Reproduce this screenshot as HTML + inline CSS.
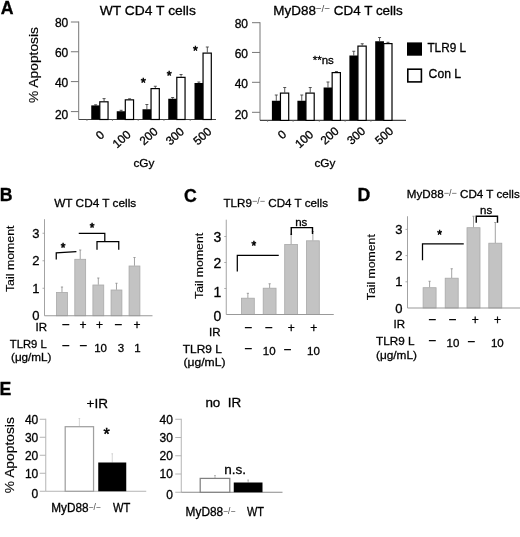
<!DOCTYPE html>
<html lang="en">
<head>
<meta charset="utf-8">
<title>Figure</title>
<style>
html,body{margin:0;padding:0;background:#fff;}
body{width:520px;height:537px;overflow:hidden;}
svg{display:block;}
svg text{font-family:"Liberation Sans", sans-serif;fill:#000;stroke:#000;stroke-width:0.3px;}
</style>
</head>
<body>
<svg width="520" height="537" viewBox="0 0 520 537">
<rect x="0" y="0" width="520" height="537" fill="#fff"/>
<text x="0.7" y="13.7" font-size="17.7" text-anchor="start" font-weight="bold">A</text>
<text x="99.8" y="14.6" font-size="13" text-anchor="start" textLength="96" lengthAdjust="spacingAndGlyphs">WT CD4 T cells</text>
<text x="273.3" y="14.6" font-size="13" text-anchor="start" textLength="129.5" lengthAdjust="spacingAndGlyphs">MyD88<tspan font-size="9.5" dy="-2.8" stroke="none" fill="#444">&#8722;/&#8722;</tspan><tspan dy="2.8"> CD4 T cells</tspan></text>
<line x1="78.7" y1="21.5" x2="78.7" y2="119.5" stroke="#777" stroke-width="1"/>
<line x1="70.9" y1="22" x2="78.7" y2="22" stroke="#777" stroke-width="1"/>
<text x="68.3" y="26.8" font-size="12" text-anchor="end">80</text>
<line x1="70.9" y1="51.75" x2="78.7" y2="51.75" stroke="#777" stroke-width="1"/>
<text x="68.3" y="56.9" font-size="12" text-anchor="end">60</text>
<line x1="70.9" y1="81.6" x2="78.7" y2="81.6" stroke="#777" stroke-width="1"/>
<text x="68.3" y="87.3" font-size="12" text-anchor="end">40</text>
<line x1="70.9" y1="111.6" x2="78.7" y2="111.6" stroke="#777" stroke-width="1"/>
<text x="68.3" y="118.5" font-size="12" text-anchor="end">20</text>
<line x1="78.7" y1="119.5" x2="216" y2="119.5" stroke="#444" stroke-width="1.1"/>
<line x1="95.625" y1="104.8" x2="95.625" y2="105.4" stroke="#444" stroke-width="0.9"/>
<line x1="94.125" y1="104.8" x2="97.125" y2="104.8" stroke="#444" stroke-width="0.9"/>
<rect x="91.25" y="105.40" width="8.75" height="14.10" fill="#000"/>
<line x1="104.075" y1="98.6" x2="104.075" y2="101.2" stroke="#444" stroke-width="0.9"/>
<line x1="102.575" y1="98.6" x2="105.575" y2="98.6" stroke="#444" stroke-width="0.9"/>
<rect x="99.80" y="101.80" width="8.25" height="17.70" fill="#fff" stroke="#000" stroke-width="1.2"/>
<line x1="86.95" y1="119.5" x2="86.95" y2="121.0" stroke="#777" stroke-width="0.8"/>
<line x1="121.125" y1="110.3" x2="121.125" y2="111.25" stroke="#444" stroke-width="0.9"/>
<line x1="119.625" y1="110.3" x2="122.625" y2="110.3" stroke="#444" stroke-width="0.9"/>
<rect x="116.75" y="111.25" width="8.75" height="8.25" fill="#000"/>
<line x1="129.575" y1="98.8" x2="129.575" y2="99.25" stroke="#444" stroke-width="0.9"/>
<line x1="128.075" y1="98.8" x2="131.075" y2="98.8" stroke="#444" stroke-width="0.9"/>
<rect x="125.30" y="99.85" width="8.25" height="19.65" fill="#fff" stroke="#000" stroke-width="1.2"/>
<line x1="112.45" y1="119.5" x2="112.45" y2="121.0" stroke="#777" stroke-width="0.8"/>
<line x1="146.875" y1="104.5" x2="146.875" y2="109.25" stroke="#444" stroke-width="0.9"/>
<line x1="145.375" y1="104.5" x2="148.375" y2="104.5" stroke="#444" stroke-width="0.9"/>
<rect x="142.50" y="109.25" width="8.75" height="10.25" fill="#000"/>
<line x1="155.325" y1="86.25" x2="155.325" y2="88.0" stroke="#444" stroke-width="0.9"/>
<line x1="153.825" y1="86.25" x2="156.825" y2="86.25" stroke="#444" stroke-width="0.9"/>
<rect x="151.05" y="88.60" width="8.25" height="30.90" fill="#fff" stroke="#000" stroke-width="1.2"/>
<line x1="138.2" y1="119.5" x2="138.2" y2="121.0" stroke="#777" stroke-width="0.8"/>
<line x1="172.625" y1="97.5" x2="172.625" y2="98.75" stroke="#444" stroke-width="0.9"/>
<line x1="171.125" y1="97.5" x2="174.125" y2="97.5" stroke="#444" stroke-width="0.9"/>
<rect x="168.25" y="98.75" width="8.75" height="20.75" fill="#000"/>
<line x1="181.075" y1="74.5" x2="181.075" y2="76.75" stroke="#444" stroke-width="0.9"/>
<line x1="179.575" y1="74.5" x2="182.575" y2="74.5" stroke="#444" stroke-width="0.9"/>
<rect x="176.80" y="77.35" width="8.25" height="42.15" fill="#fff" stroke="#000" stroke-width="1.2"/>
<line x1="163.95" y1="119.5" x2="163.95" y2="121.0" stroke="#777" stroke-width="0.8"/>
<line x1="198.875" y1="82.0" x2="198.875" y2="83.0" stroke="#444" stroke-width="0.9"/>
<line x1="197.375" y1="82.0" x2="200.375" y2="82.0" stroke="#444" stroke-width="0.9"/>
<rect x="194.50" y="83.00" width="8.75" height="36.50" fill="#000"/>
<line x1="207.325" y1="47.0" x2="207.325" y2="52.5" stroke="#444" stroke-width="0.9"/>
<line x1="205.825" y1="47.0" x2="208.825" y2="47.0" stroke="#444" stroke-width="0.9"/>
<rect x="203.05" y="53.10" width="8.25" height="66.40" fill="#fff" stroke="#000" stroke-width="1.2"/>
<line x1="190.2" y1="119.5" x2="190.2" y2="121.0" stroke="#777" stroke-width="0.8"/>
<text x="100" y="135" font-size="11.8" text-anchor="middle" transform="rotate(-42 100 135)" dy="4.2">0</text>
<text x="121.5" y="139" font-size="11.8" text-anchor="middle" transform="rotate(-42 121.5 139)" dy="4.2">100</text>
<text x="148.4" y="136" font-size="11.8" text-anchor="middle" transform="rotate(-42 148.4 136)" dy="4.2">200</text>
<text x="174.75" y="136" font-size="11.8" text-anchor="middle" transform="rotate(-42 174.75 136)" dy="4.2">300</text>
<text x="202.25" y="136" font-size="11.8" text-anchor="middle" transform="rotate(-42 202.25 136)" dy="4.2">500</text>
<text x="143.9" y="167.3" font-size="11.8" text-anchor="middle">cGy</text>
<text x="143.2" y="87.09" font-size="13.21" text-anchor="middle" style="stroke-width:0.55px">*</text>
<text x="169.2" y="79.5" font-size="12.64" text-anchor="middle" style="stroke-width:0.55px">*</text>
<text x="195.5" y="55.15" font-size="12.36" text-anchor="middle" style="stroke-width:0.55px">*</text>
<text x="38.3" y="65" font-size="12.5" text-anchor="middle" transform="rotate(-90 38.3 65)" style="stroke-width:0.15px" textLength="76" lengthAdjust="spacingAndGlyphs">% Apoptosis</text>
<line x1="260" y1="22.2" x2="260" y2="120.4" stroke="#777" stroke-width="1"/>
<line x1="252" y1="22.7" x2="260" y2="22.7" stroke="#777" stroke-width="1"/>
<text x="248" y="27.5" font-size="12" text-anchor="end">80</text>
<line x1="252" y1="52.45" x2="260" y2="52.45" stroke="#777" stroke-width="1"/>
<text x="248" y="57.6" font-size="12" text-anchor="end">60</text>
<line x1="252" y1="82.3" x2="260" y2="82.3" stroke="#777" stroke-width="1"/>
<text x="248" y="88.0" font-size="12" text-anchor="end">40</text>
<line x1="252" y1="112.3" x2="260" y2="112.3" stroke="#777" stroke-width="1"/>
<text x="248" y="119.2" font-size="12" text-anchor="end">20</text>
<line x1="260" y1="120.4" x2="406" y2="120.4" stroke="#444" stroke-width="1.1"/>
<line x1="276.275" y1="95" x2="276.275" y2="100.75" stroke="#444" stroke-width="0.9"/>
<line x1="274.775" y1="95" x2="277.775" y2="95" stroke="#444" stroke-width="0.9"/>
<rect x="271.90" y="100.75" width="8.75" height="19.65" fill="#000"/>
<line x1="284.72499999999997" y1="87.5" x2="284.72499999999997" y2="92.5" stroke="#444" stroke-width="0.9"/>
<line x1="283.22499999999997" y1="87.5" x2="286.22499999999997" y2="87.5" stroke="#444" stroke-width="0.9"/>
<rect x="280.45" y="93.10" width="8.25" height="27.30" fill="#fff" stroke="#000" stroke-width="1.2"/>
<line x1="267.59999999999997" y1="120.4" x2="267.59999999999997" y2="121.9" stroke="#777" stroke-width="0.8"/>
<line x1="301.775" y1="95" x2="301.775" y2="100.75" stroke="#444" stroke-width="0.9"/>
<line x1="300.275" y1="95" x2="303.275" y2="95" stroke="#444" stroke-width="0.9"/>
<rect x="297.40" y="100.75" width="8.75" height="19.65" fill="#000"/>
<line x1="310.22499999999997" y1="87.5" x2="310.22499999999997" y2="92.5" stroke="#444" stroke-width="0.9"/>
<line x1="308.72499999999997" y1="87.5" x2="311.72499999999997" y2="87.5" stroke="#444" stroke-width="0.9"/>
<rect x="305.95" y="93.10" width="8.25" height="27.30" fill="#fff" stroke="#000" stroke-width="1.2"/>
<line x1="293.09999999999997" y1="120.4" x2="293.09999999999997" y2="121.9" stroke="#777" stroke-width="0.8"/>
<line x1="327.975" y1="82" x2="327.975" y2="87.5" stroke="#444" stroke-width="0.9"/>
<line x1="326.475" y1="82" x2="329.475" y2="82" stroke="#444" stroke-width="0.9"/>
<rect x="323.60" y="87.50" width="8.75" height="32.90" fill="#000"/>
<line x1="336.425" y1="71.5" x2="336.425" y2="72" stroke="#444" stroke-width="0.9"/>
<line x1="334.925" y1="71.5" x2="337.925" y2="71.5" stroke="#444" stroke-width="0.9"/>
<rect x="332.15" y="72.60" width="8.25" height="47.80" fill="#fff" stroke="#000" stroke-width="1.2"/>
<line x1="319.3" y1="120.4" x2="319.3" y2="121.9" stroke="#777" stroke-width="0.8"/>
<line x1="353.775" y1="51.25" x2="353.775" y2="55.5" stroke="#444" stroke-width="0.9"/>
<line x1="352.275" y1="51.25" x2="355.275" y2="51.25" stroke="#444" stroke-width="0.9"/>
<rect x="349.40" y="55.50" width="8.75" height="64.90" fill="#000"/>
<line x1="362.22499999999997" y1="43.75" x2="362.22499999999997" y2="45.5" stroke="#444" stroke-width="0.9"/>
<line x1="360.72499999999997" y1="43.75" x2="363.72499999999997" y2="43.75" stroke="#444" stroke-width="0.9"/>
<rect x="357.95" y="46.10" width="8.25" height="74.30" fill="#fff" stroke="#000" stroke-width="1.2"/>
<line x1="345.09999999999997" y1="120.4" x2="345.09999999999997" y2="121.9" stroke="#777" stroke-width="0.8"/>
<line x1="379.575" y1="37.5" x2="379.575" y2="41.25" stroke="#444" stroke-width="0.9"/>
<line x1="378.075" y1="37.5" x2="381.075" y2="37.5" stroke="#444" stroke-width="0.9"/>
<rect x="375.20" y="41.25" width="8.75" height="79.15" fill="#000"/>
<line x1="388.025" y1="42.3" x2="388.025" y2="43" stroke="#444" stroke-width="0.9"/>
<line x1="386.525" y1="42.3" x2="389.525" y2="42.3" stroke="#444" stroke-width="0.9"/>
<rect x="383.75" y="43.60" width="8.25" height="76.80" fill="#fff" stroke="#000" stroke-width="1.2"/>
<line x1="370.9" y1="120.4" x2="370.9" y2="121.9" stroke="#777" stroke-width="0.8"/>
<text x="282" y="134.5" font-size="11.8" text-anchor="middle" transform="rotate(-42 282 134.5)" dy="4.2">0</text>
<text x="304" y="139" font-size="11.8" text-anchor="middle" transform="rotate(-42 304 139)" dy="4.2">100</text>
<text x="329.5" y="135.5" font-size="11.8" text-anchor="middle" transform="rotate(-42 329.5 135.5)" dy="4.2">200</text>
<text x="356" y="135.5" font-size="11.8" text-anchor="middle" transform="rotate(-42 356 135.5)" dy="4.2">300</text>
<text x="384" y="135.5" font-size="11.8" text-anchor="middle" transform="rotate(-42 384 135.5)" dy="4.2">500</text>
<text x="324.9" y="167.3" font-size="11.8" text-anchor="middle">cGy</text>
<text x="312.7" y="64.0" font-size="11.5" text-anchor="start">**ns</text>
<rect x="407.00" y="42.40" width="15.00" height="13.30" fill="#000"/>
<rect x="407.80" y="69.20" width="13.60" height="12.70" fill="#fff" stroke="#000" stroke-width="1.6"/>
<text x="427.4" y="51.9" font-size="12.2" text-anchor="start" textLength="38.6" lengthAdjust="spacingAndGlyphs">TLR9 L</text>
<text x="428.6" y="77.7" font-size="12.2" text-anchor="start">Con L</text>
<text x="-0.2" y="201.1" font-size="17.7" text-anchor="start" font-weight="bold">B</text>
<text x="54.2" y="207" font-size="11.5" text-anchor="start" textLength="82" lengthAdjust="spacingAndGlyphs">WT CD4 T cells</text>
<line x1="44.5" y1="219.2" x2="44.5" y2="315.75" stroke="#999" stroke-width="0.9"/>
<text x="39.5" y="320.43" font-size="13" text-anchor="end">0</text>
<line x1="42.5" y1="288.25" x2="44.5" y2="288.25" stroke="#999" stroke-width="0.8"/>
<text x="39.5" y="292.93" font-size="13" text-anchor="end">1</text>
<line x1="42.5" y1="260.75" x2="44.5" y2="260.75" stroke="#999" stroke-width="0.8"/>
<text x="39.5" y="265.43" font-size="13" text-anchor="end">2</text>
<line x1="42.5" y1="233.25" x2="44.5" y2="233.25" stroke="#999" stroke-width="0.8"/>
<text x="39.5" y="237.93" font-size="13" text-anchor="end">3</text>
<line x1="61.975" y1="287" x2="61.975" y2="292.3" stroke="#8c8c8c" stroke-width="0.8"/>
<line x1="60.875" y1="287" x2="63.075" y2="287" stroke="#8c8c8c" stroke-width="0.8"/>
<rect x="56.55" y="292.50" width="10.85" height="23.25" fill="#c3c3c3" stroke="#a9a9a9" stroke-width="0.8"/>
<line x1="80.225" y1="250" x2="80.225" y2="259.1" stroke="#8c8c8c" stroke-width="0.8"/>
<line x1="79.125" y1="250" x2="81.32499999999999" y2="250" stroke="#8c8c8c" stroke-width="0.8"/>
<rect x="74.80" y="259.30" width="10.85" height="56.45" fill="#c3c3c3" stroke="#a9a9a9" stroke-width="0.8"/>
<line x1="98.325" y1="278" x2="98.325" y2="284.8" stroke="#8c8c8c" stroke-width="0.8"/>
<line x1="97.22500000000001" y1="278" x2="99.425" y2="278" stroke="#8c8c8c" stroke-width="0.8"/>
<rect x="92.90" y="285.00" width="10.85" height="30.75" fill="#c3c3c3" stroke="#a9a9a9" stroke-width="0.8"/>
<line x1="116.475" y1="283.25" x2="116.475" y2="289.8" stroke="#8c8c8c" stroke-width="0.8"/>
<line x1="115.375" y1="283.25" x2="117.57499999999999" y2="283.25" stroke="#8c8c8c" stroke-width="0.8"/>
<rect x="111.05" y="290.00" width="10.85" height="25.75" fill="#c3c3c3" stroke="#a9a9a9" stroke-width="0.8"/>
<line x1="134.475" y1="257.5" x2="134.475" y2="265.8" stroke="#8c8c8c" stroke-width="0.8"/>
<line x1="133.375" y1="257.5" x2="135.575" y2="257.5" stroke="#8c8c8c" stroke-width="0.8"/>
<rect x="129.05" y="266.00" width="10.85" height="49.75" fill="#c3c3c3" stroke="#a9a9a9" stroke-width="0.8"/>
<line x1="44.5" y1="315.75" x2="152.5" y2="315.75" stroke="#999" stroke-width="1"/>
<polyline points="56.25,259.6 56.25,252.8 76.4,251.7" fill="none" stroke="#000" stroke-width="1.25" stroke-linejoin="miter"/>
<text x="63.1" y="252.41" font-size="12.07" text-anchor="middle" style="stroke-width:0.55px">*</text>
<polyline points="78.75,233.4 104.8,233.4 104.8,241.6" fill="none" stroke="#000" stroke-width="1.25" stroke-linejoin="miter"/>
<polyline points="97,249.8 97,241.6 118.75,241.6 118.75,249.8" fill="none" stroke="#000" stroke-width="1.25" stroke-linejoin="miter"/>
<text x="92" y="232.11" font-size="12.07" text-anchor="middle" style="stroke-width:0.55px">*</text>
<text x="14.2" y="258.8" font-size="11.6" text-anchor="middle" transform="rotate(-90 14.2 258.8)" style="stroke-width:0.15px" textLength="66.5" lengthAdjust="spacingAndGlyphs">Tail moment</text>
<text x="47.0" y="331.0" font-size="11.5" text-anchor="end">IR</text>
<text x="9.8" y="347.5" font-size="11.5" text-anchor="start" textLength="37" lengthAdjust="spacingAndGlyphs">TLR9 L</text>
<text x="11.0" y="361.25" font-size="11.5" text-anchor="start" textLength="40.5" lengthAdjust="spacingAndGlyphs">(&#956;g/mL)</text>
<text x="66.0" y="328.75" font-size="13.5" text-anchor="middle">&#8722;</text>
<text x="83" y="329.1" font-size="12" text-anchor="middle">+</text>
<text x="99.5" y="329.1" font-size="12" text-anchor="middle">+</text>
<text x="118.5" y="328.75" font-size="13.5" text-anchor="middle">&#8722;</text>
<text x="137" y="329.1" font-size="12" text-anchor="middle">+</text>
<text x="66.0" y="350.0" font-size="13.5" text-anchor="middle">&#8722;</text>
<text x="83.5" y="350.0" font-size="13.5" text-anchor="middle">&#8722;</text>
<text x="100.625" y="351.75" font-size="11.5" text-anchor="middle">10</text>
<text x="120.875" y="351.75" font-size="11.5" text-anchor="middle">3</text>
<text x="137.35" y="351.75" font-size="11.5" text-anchor="middle">1</text>
<text x="183.9" y="201.8" font-size="17.7" text-anchor="start" font-weight="bold">C</text>
<text x="223.5" y="206.5" font-size="11.5" text-anchor="start" textLength="104.5" lengthAdjust="spacingAndGlyphs">TLR9<tspan font-size="9" dy="-2.6" stroke="none" fill="#444">&#8722;/&#8722;</tspan><tspan dy="2.6"> CD4 T cells</tspan></text>
<line x1="226.25" y1="219.7" x2="226.25" y2="314.5" stroke="#999" stroke-width="0.9"/>
<text x="221.25" y="320.84000000000003" font-size="14" text-anchor="end">0</text>
<line x1="224.25" y1="288.5" x2="226.25" y2="288.5" stroke="#999" stroke-width="0.8"/>
<text x="221.25" y="296.84000000000003" font-size="14" text-anchor="end">1</text>
<line x1="224.25" y1="262.5" x2="226.25" y2="262.5" stroke="#999" stroke-width="0.8"/>
<text x="221.25" y="267.84000000000003" font-size="14" text-anchor="end">2</text>
<line x1="224.25" y1="236.5" x2="226.25" y2="236.5" stroke="#999" stroke-width="0.8"/>
<text x="221.25" y="242.44" font-size="14" text-anchor="end">3</text>
<line x1="247.875" y1="293.3" x2="247.875" y2="298.0" stroke="#8c8c8c" stroke-width="0.8"/>
<line x1="246.775" y1="293.3" x2="248.975" y2="293.3" stroke="#8c8c8c" stroke-width="0.8"/>
<rect x="241.45" y="298.20" width="12.85" height="16.30" fill="#c3c3c3" stroke="#a9a9a9" stroke-width="0.8"/>
<line x1="269.625" y1="283.75" x2="269.625" y2="288" stroke="#8c8c8c" stroke-width="0.8"/>
<line x1="268.525" y1="283.75" x2="270.725" y2="283.75" stroke="#8c8c8c" stroke-width="0.8"/>
<rect x="263.20" y="288.20" width="12.85" height="26.30" fill="#c3c3c3" stroke="#a9a9a9" stroke-width="0.8"/>
<line x1="291.125" y1="234.2" x2="291.125" y2="244.2" stroke="#8c8c8c" stroke-width="0.8"/>
<line x1="290.025" y1="234.2" x2="292.225" y2="234.2" stroke="#8c8c8c" stroke-width="0.8"/>
<rect x="284.70" y="244.40" width="12.85" height="70.10" fill="#c3c3c3" stroke="#a9a9a9" stroke-width="0.8"/>
<line x1="312.875" y1="231.5" x2="312.875" y2="240.6" stroke="#8c8c8c" stroke-width="0.8"/>
<line x1="311.775" y1="231.5" x2="313.975" y2="231.5" stroke="#8c8c8c" stroke-width="0.8"/>
<rect x="306.45" y="240.80" width="12.85" height="73.70" fill="#c3c3c3" stroke="#a9a9a9" stroke-width="0.8"/>
<line x1="226.25" y1="314.5" x2="333.75" y2="314.5" stroke="#999" stroke-width="1"/>
<polyline points="237.3,271.5 237.3,255.4 278.75,255.4" fill="none" stroke="#000" stroke-width="1.25" stroke-linejoin="miter"/>
<text x="253.75" y="250.31" font-size="12.07" text-anchor="middle" style="stroke-width:0.55px">*</text>
<polyline points="291.25,235 291.25,227.6 312.5,227.6 312.5,234" fill="none" stroke="#000" stroke-width="1.4" stroke-linejoin="miter"/>
<text x="301.3" y="225.8" font-size="11.5" text-anchor="middle">ns</text>
<text x="202.8" y="265.9" font-size="11.6" text-anchor="middle" transform="rotate(-90 202.8 265.9)" style="stroke-width:0.15px" textLength="66" lengthAdjust="spacingAndGlyphs">Tail moment</text>
<text x="220.5" y="336.25" font-size="11.5" text-anchor="end">IR</text>
<text x="182.8" y="352.5" font-size="11.5" text-anchor="start" textLength="39" lengthAdjust="spacingAndGlyphs">TLR9 L</text>
<text x="183.5" y="366.25" font-size="11.5" text-anchor="start" textLength="42" lengthAdjust="spacingAndGlyphs">(&#956;g/mL)</text>
<text x="248.5" y="332.0" font-size="13.5" text-anchor="middle">&#8722;</text>
<text x="269.0" y="332.0" font-size="13.5" text-anchor="middle">&#8722;</text>
<text x="291.25" y="332.1" font-size="12" text-anchor="middle">+</text>
<text x="313.75" y="332.1" font-size="12" text-anchor="middle">+</text>
<text x="248.5" y="352.5" font-size="13.5" text-anchor="middle">&#8722;</text>
<text x="269.25" y="354.5" font-size="11.5" text-anchor="middle">10</text>
<text x="287.625" y="354.25" font-size="13.5" text-anchor="middle">&#8722;</text>
<text x="313.5" y="355" font-size="11.5" text-anchor="middle">10</text>
<text x="357.5" y="200.8" font-size="17.7" text-anchor="start" font-weight="bold">D</text>
<text x="406.8" y="198.3" font-size="11.5" text-anchor="start" textLength="113" lengthAdjust="spacingAndGlyphs">MyD88<tspan font-size="9" dy="-2.6" stroke="none" fill="#444">&#8722;/&#8722;</tspan><tspan dy="2.6"> CD4 T cells</tspan></text>
<line x1="407.5" y1="216.25" x2="407.5" y2="308" stroke="#999" stroke-width="0.9"/>
<text x="402.5" y="312.68" font-size="13" text-anchor="end">0</text>
<line x1="405.5" y1="281.8" x2="407.5" y2="281.8" stroke="#999" stroke-width="0.8"/>
<text x="402.5" y="286.48" font-size="13" text-anchor="end">1</text>
<line x1="405.5" y1="255.6" x2="407.5" y2="255.6" stroke="#999" stroke-width="0.8"/>
<text x="402.5" y="260.28" font-size="13" text-anchor="end">2</text>
<line x1="405.5" y1="229.4" x2="407.5" y2="229.4" stroke="#999" stroke-width="0.8"/>
<text x="402.5" y="234.08" font-size="13" text-anchor="end">3</text>
<line x1="429.59999999999997" y1="281.25" x2="429.59999999999997" y2="287.5" stroke="#8c8c8c" stroke-width="0.8"/>
<line x1="428.49999999999994" y1="281.25" x2="430.7" y2="281.25" stroke="#8c8c8c" stroke-width="0.8"/>
<rect x="423.10" y="287.70" width="13.00" height="20.30" fill="#c3c3c3" stroke="#a9a9a9" stroke-width="0.8"/>
<line x1="451.7" y1="268.75" x2="451.7" y2="278" stroke="#8c8c8c" stroke-width="0.8"/>
<line x1="450.59999999999997" y1="268.75" x2="452.8" y2="268.75" stroke="#8c8c8c" stroke-width="0.8"/>
<rect x="445.20" y="278.20" width="13.00" height="29.80" fill="#c3c3c3" stroke="#a9a9a9" stroke-width="0.8"/>
<line x1="473.5" y1="216.25" x2="473.5" y2="227.5" stroke="#8c8c8c" stroke-width="0.8"/>
<line x1="472.4" y1="216.25" x2="474.6" y2="216.25" stroke="#8c8c8c" stroke-width="0.8"/>
<rect x="467.00" y="227.70" width="13.00" height="80.30" fill="#c3c3c3" stroke="#a9a9a9" stroke-width="0.8"/>
<line x1="495.3" y1="222.5" x2="495.3" y2="243" stroke="#8c8c8c" stroke-width="0.8"/>
<line x1="494.2" y1="222.5" x2="496.40000000000003" y2="222.5" stroke="#8c8c8c" stroke-width="0.8"/>
<rect x="488.80" y="243.20" width="13.00" height="64.80" fill="#c3c3c3" stroke="#a9a9a9" stroke-width="0.8"/>
<line x1="407.5" y1="308" x2="520" y2="308" stroke="#999" stroke-width="1"/>
<polyline points="422.5,260.3 422.5,243.8 463.75,243.8" fill="none" stroke="#000" stroke-width="1.25" stroke-linejoin="miter"/>
<text x="439.5" y="239.01" font-size="12.07" text-anchor="middle" style="stroke-width:0.55px">*</text>
<polyline points="476.25,222.8 476.25,216.3 497.5,216.3 497.5,222.8" fill="none" stroke="#000" stroke-width="1.4" stroke-linejoin="miter"/>
<text x="486.2" y="213.9" font-size="11.5" text-anchor="middle">ns</text>
<text x="375.0" y="267.2" font-size="11.6" text-anchor="middle" transform="rotate(-90 375.0 267.2)" style="stroke-width:0.15px" textLength="66" lengthAdjust="spacingAndGlyphs">Tail moment</text>
<text x="405" y="328" font-size="11.5" text-anchor="end">IR</text>
<text x="376" y="345" font-size="11.5" text-anchor="start" textLength="38.5" lengthAdjust="spacingAndGlyphs">TLR9 L</text>
<text x="376" y="358.75" font-size="11.5" text-anchor="start" textLength="41" lengthAdjust="spacingAndGlyphs">(&#956;g/mL)</text>
<text x="432.5" y="323.8" font-size="13.5" text-anchor="middle">&#8722;</text>
<text x="452.65" y="323.8" font-size="13.5" text-anchor="middle">&#8722;</text>
<text x="475.2" y="324.3" font-size="12" text-anchor="middle">+</text>
<text x="497.5" y="324.3" font-size="12" text-anchor="middle">+</text>
<text x="432.5" y="344.6" font-size="13.5" text-anchor="middle">&#8722;</text>
<text x="452.95" y="346.7" font-size="11.5" text-anchor="middle">10</text>
<text x="471.54999999999995" y="346.0" font-size="13.5" text-anchor="middle">&#8722;</text>
<text x="497.35" y="346.7" font-size="11.5" text-anchor="middle">10</text>
<text x="-0.5" y="394.6" font-size="17.7" text-anchor="start" font-weight="bold">E</text>
<text x="86.6" y="408.4" font-size="13.5" text-anchor="start">+IR</text>
<text x="205.4" y="407" font-size="13" text-anchor="start" textLength="35.8" lengthAdjust="spacingAndGlyphs">no&#160; IR</text>
<line x1="45.75" y1="418.75" x2="45.75" y2="491.25" stroke="#b4b4b4" stroke-width="1"/>
<line x1="39.75" y1="491.25" x2="45.75" y2="491.25" stroke="#b4b4b4" stroke-width="1"/>
<text x="38.25" y="497.95" font-size="12" text-anchor="end">0</text>
<line x1="39.75" y1="473.25" x2="45.75" y2="473.25" stroke="#b4b4b4" stroke-width="1"/>
<text x="38.25" y="477.55" font-size="12" text-anchor="end">10</text>
<line x1="39.75" y1="455.25" x2="45.75" y2="455.25" stroke="#b4b4b4" stroke-width="1"/>
<text x="38.25" y="459.55" font-size="12" text-anchor="end">20</text>
<line x1="39.75" y1="437.25" x2="45.75" y2="437.25" stroke="#b4b4b4" stroke-width="1"/>
<text x="38.25" y="441.55" font-size="12" text-anchor="end">30</text>
<line x1="39.75" y1="419.25" x2="45.75" y2="419.25" stroke="#b4b4b4" stroke-width="1"/>
<text x="38.25" y="423.55" font-size="12" text-anchor="end">40</text>
<line x1="45.75" y1="491.25" x2="146.25" y2="491.25" stroke="#b4b4b4" stroke-width="1"/>
<line x1="79.375" y1="418.5" x2="79.375" y2="426.3" stroke="#c4c4c4" stroke-width="0.7"/>
<line x1="78.575" y1="418.5" x2="80.175" y2="418.5" stroke="#c4c4c4" stroke-width="0.7"/>
<rect x="65.20" y="426.70" width="28.35" height="64.55" fill="#fff" stroke="#a0a0a0" stroke-width="1.25"/>
<line x1="112.25" y1="453.75" x2="112.25" y2="462.5" stroke="#c4c4c4" stroke-width="0.7"/>
<line x1="111.45" y1="453.75" x2="113.05" y2="453.75" stroke="#c4c4c4" stroke-width="0.7"/>
<rect x="98.25" y="462.50" width="28.00" height="28.75" fill="#000"/>
<text x="106.5" y="439.75" font-size="16.05" text-anchor="middle" style="stroke-width:0.55px">*</text>
<text x="51.3" y="512.25" font-size="12" text-anchor="start" textLength="49.5" lengthAdjust="spacingAndGlyphs">MyD88<tspan font-size="8.6" dy="-2.5" stroke="none" fill="#444">&#8722;/&#8722;</tspan><tspan dy="2.5"></tspan></text>
<text x="113.1" y="512.25" font-size="12" text-anchor="start" textLength="17.3" lengthAdjust="spacingAndGlyphs">WT</text>
<text x="14.1" y="455.2" font-size="12.5" text-anchor="middle" transform="rotate(-90 14.1 455.2)" style="stroke-width:0.15px" textLength="76" lengthAdjust="spacingAndGlyphs">% Apoptosis</text>
<line x1="181.25" y1="418.75" x2="181.25" y2="492.25" stroke="#b4b4b4" stroke-width="1"/>
<line x1="175.25" y1="492.25" x2="181.25" y2="492.25" stroke="#b4b4b4" stroke-width="1"/>
<text x="172.95" y="498.95" font-size="12" text-anchor="end">0</text>
<line x1="175.25" y1="474.0" x2="181.25" y2="474.0" stroke="#b4b4b4" stroke-width="1"/>
<text x="172.95" y="478.3" font-size="12" text-anchor="end">10</text>
<line x1="175.25" y1="455.75" x2="181.25" y2="455.75" stroke="#b4b4b4" stroke-width="1"/>
<text x="172.95" y="460.05" font-size="12" text-anchor="end">20</text>
<line x1="175.25" y1="437.5" x2="181.25" y2="437.5" stroke="#b4b4b4" stroke-width="1"/>
<text x="172.95" y="441.8" font-size="12" text-anchor="end">30</text>
<line x1="175.25" y1="419.25" x2="181.25" y2="419.25" stroke="#b4b4b4" stroke-width="1"/>
<text x="172.95" y="423.55" font-size="12" text-anchor="end">40</text>
<line x1="181.25" y1="492.25" x2="282.5" y2="492.25" stroke="#8a8a8a" stroke-width="1"/>
<line x1="215.0" y1="475.5" x2="215.0" y2="478" stroke="#999" stroke-width="0.7"/>
<line x1="214.2" y1="475.5" x2="215.8" y2="475.5" stroke="#999" stroke-width="0.7"/>
<rect x="200.20" y="478.40" width="29.60" height="13.85" fill="#fff" stroke="#808080" stroke-width="1.25"/>
<line x1="248.125" y1="480" x2="248.125" y2="482.5" stroke="#999" stroke-width="0.7"/>
<line x1="247.325" y1="480" x2="248.925" y2="480" stroke="#999" stroke-width="0.7"/>
<rect x="233.75" y="482.50" width="28.75" height="9.75" fill="#000"/>
<text x="224.3" y="473.9" font-size="13.5" text-anchor="start">n.s.</text>
<text x="185.6" y="516.1" font-size="12" text-anchor="start" textLength="49.8" lengthAdjust="spacingAndGlyphs">MyD88<tspan font-size="8.6" dy="-2.5" stroke="none" fill="#444">&#8722;/&#8722;</tspan><tspan dy="2.5"></tspan></text>
<text x="246.9" y="516.1" font-size="12" text-anchor="start" textLength="17" lengthAdjust="spacingAndGlyphs">WT</text>
</svg>
</body>
</html>
